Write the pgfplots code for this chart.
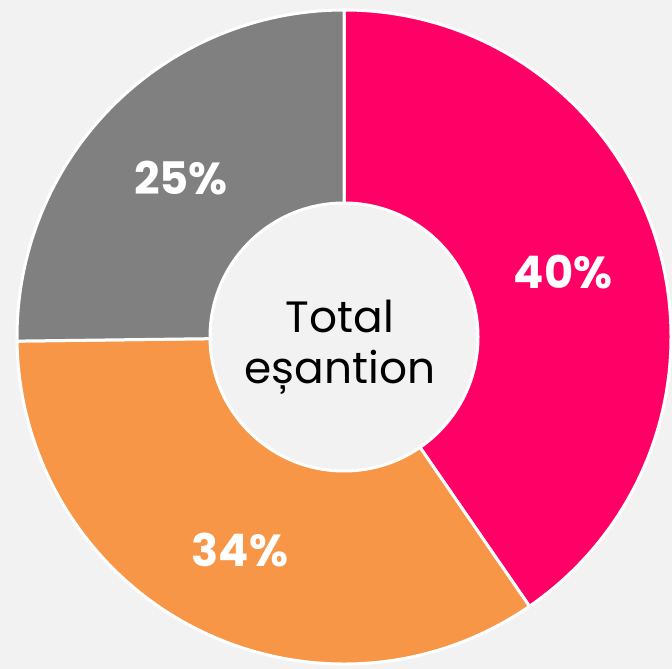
\documentclass[border=0pt]{standalone}
\usepackage{pgfplots}
\pgfplotsset{compat=1.18}
\usepackage{pgfplotstable}
\usepackage{fontspec}
\setmainfont{Poppins}
\definecolor{bg}{HTML}{F2F2F2}
\definecolor{pinkc}{HTML}{FF0066}
\definecolor{orangec}{HTML}{F79646}
\definecolor{grayc}{HTML}{808080}
\pgfplotstableread{
share
40.4
34.4
25.2
}\data
\pgfplotstablegetelem{0}{share}\of\data \let\sa\pgfplotsretval
\pgfplotstablegetelem{1}{share}\of\data \let\sb\pgfplotsretval
\pgfplotstablegetelem{2}{share}\of\data \let\sc\pgfplotsretval
\pgfmathsetmacro\angA{90}
\pgfmathsetmacro\angB{90-3.6*\sa}
\pgfmathsetmacro\angC{\angB-3.6*\sb}
\pgfmathsetmacro\angD{\angC-3.6*\sc}
\begin{document}
\begin{tikzpicture}
\begin{axis}[hide axis, scale only axis, width=672bp, height=669bp,
  xmin=0, xmax=672, ymin=0, ymax=669, clip=false]
\fill[bg] (axis cs:0,0) rectangle (axis cs:672,669);
\coordinate (bbsw) at (axis cs:0,0);
\coordinate (bbne) at (axis cs:672,669);
\fill[pinkc, draw=white, line width=3bp] (axis cs:344,332) -- ++(\angA:327bp) arc[start angle=\angA, end angle=\angB, radius=327bp] -- cycle;
\fill[orangec, draw=white, line width=3bp] (axis cs:344,332) -- ++(\angB:327bp) arc[start angle=\angB, end angle=\angC, radius=327bp] -- cycle;
\fill[grayc, draw=white, line width=3bp] (axis cs:344,332) -- ++(\angC:327bp) arc[start angle=\angC, end angle=\angD, radius=327bp] -- cycle;
\fill[bg, draw=white, line width=3bp] (axis cs:344,332) circle[radius=134bp];
\node[text=white, font=\bfseries\fontsize{45}{45}\selectfont] at (axis cs:563,397) {40\%};
\node[text=white, font=\bfseries\fontsize{45}{45}\selectfont] at (axis cs:181,491) {25\%};
\node[text=white, font=\bfseries\fontsize{45}{45}\selectfont] at (axis cs:240,119) {34\%};
\node[text=black, font=\fontsize{44}{44}\selectfont] at (axis cs:340,353) {Total};
\node[text=black, font=\fontsize{44}{44}\selectfont] at (axis cs:340,297) {eșantion};
\end{axis}
\pgfresetboundingbox
\useasboundingbox (bbsw) rectangle (bbne);
\end{tikzpicture}
\end{document}
